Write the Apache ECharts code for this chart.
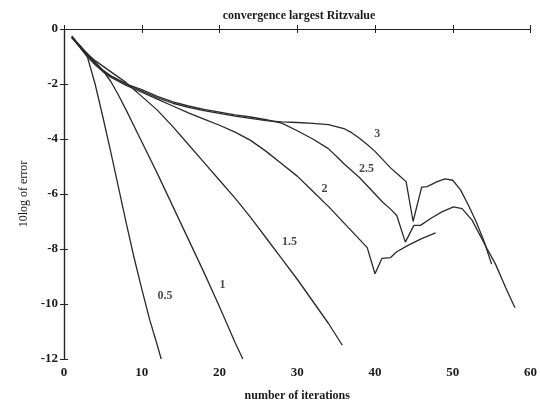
<!DOCTYPE html>
<html><head><meta charset="utf-8">
<script src="https://cdn.jsdelivr.net/npm/echarts@6/dist/echarts.min.js"></script>
<style>html,body{margin:0;padding:0;background:#fff}#c{width:540px;height:407px}</style>
</head><body><div id="c"></div>
<script>
// Data
const x05 = [1, 2, 3, 4, 5, 6, 7, 8, 9, 10, 11, 12, 12.5];
const y05 = [-0.3, -0.65, -1.0, -2.0, -3.2, -4.45, -5.75, -7.05, -8.3, -9.45, -10.55, -11.5, -12];
const x1 = [1, 2, 3, 4, 5, 6, 7, 8, 10, 12, 14, 16, 18, 20, 22, 23];
const y1 = [-0.3, -0.6, -0.9, -1.2, -1.5, -1.9, -2.4, -2.95, -4.1, -5.25, -6.45, -7.65, -8.85, -10.1, -11.4, -12];
const x15 = [1, 2, 3, 4, 5, 6, 7, 8, 9, 10, 12, 14, 16, 18, 20, 22, 24, 26, 28, 30, 32, 34, 35.8];
const y15 = [-0.3, -0.6, -0.9, -1.15, -1.35, -1.55, -1.75, -1.95, -2.2, -2.45, -2.95, -3.55, -4.2, -4.85, -5.5, -6.15, -6.85, -7.6, -8.35, -9.1, -9.9, -10.7, -11.5];
const x2 = [1, 2, 3, 4, 5, 6, 8, 10, 12, 14, 16, 18, 20, 22, 24, 26, 28, 30, 32, 34, 36, 38, 39, 40, 40.9, 42, 42.8, 44.3, 46, 47.8];
const y2 = [-0.3, -0.65, -1.0, -1.3, -1.55, -1.75, -2.05, -2.3, -2.55, -2.8, -3.05, -3.28, -3.5, -3.75, -4.05, -4.45, -4.9, -5.35, -5.9, -6.45, -7.05, -7.65, -7.95, -8.9, -8.34, -8.31, -8.1, -7.86, -7.62, -7.41];
const x25 = [1, 2, 3, 4, 5, 6, 8, 10, 12, 14, 16, 18, 20, 22, 24, 26, 28, 30, 32, 34, 35.3, 36, 38, 40, 41, 42, 42.8, 43.9, 45, 45.85, 47.1, 48.6, 50.1, 51.2, 52.5, 54.4, 55.5, 56.8, 58];
const y25 = [-0.3, -0.6, -0.95, -1.25, -1.5, -1.7, -2.0, -2.2, -2.45, -2.65, -2.8, -2.92, -3.02, -3.12, -3.2, -3.3, -3.42, -3.7, -4.0, -4.35, -4.7, -4.9, -5.4, -6.0, -6.3, -6.55, -6.78, -7.75, -7.14, -7.14, -6.9, -6.65, -6.47, -6.53, -6.96, -7.98, -8.55, -9.4, -10.14];
const x3 = [1, 2, 3, 4, 5, 6, 8, 10, 12, 14, 16, 18, 20, 22, 24, 26, 28, 30, 32, 34, 36, 37, 38, 39, 40, 41, 42, 43, 44, 44.9, 46, 46.7, 48, 49, 50, 51, 52, 53, 54, 55];
const y3 = [-0.25, -0.6, -0.95, -1.25, -1.5, -1.7, -2.0, -2.25, -2.5, -2.7, -2.85, -2.97, -3.07, -3.17, -3.25, -3.33, -3.38, -3.4, -3.43, -3.48, -3.62, -3.77, -3.97, -4.2, -4.45, -4.75, -5.05, -5.3, -5.55, -7.0, -5.75, -5.73, -5.55, -5.45, -5.5, -5.85, -6.4, -7.0, -7.7, -8.55];
const curveLabels = ['0.5', '1', '1.5', '2', '2.5', '3'];
const labelX = [13.0, 20.4, 29.0, 33.5, 38.9, 40.3];
const labelY = [-9.7, -9.3, -7.75, -5.8, -5.1, -3.8];
const xTicks = [0, 10, 20, 30, 40, 50, 60];
const yTicks = [-12, -10, -8, -6, -4, -2, 0];

const zip = (xs, ys) => xs.map((x, i) => [x, ys[i]]);
const curves = [[x05, y05], [x1, y1], [x15, y15], [x2, y2], [x25, y25], [x3, y3]];
const FONT = '"Liberation Serif", "DejaVu Serif", serif';
const lineColor = '#2a2a2a';

const series = curves.map(([xs, ys], i) => ({
  type: 'line', name: curveLabels[i], data: zip(xs, ys), showSymbol: false, smooth: false,
  lineStyle: { color: lineColor, width: 1.3 }, silent: true, animation: false, clip: true
}));
series.push({
  type: 'scatter', data: labelX.map((x, i) => ({ value: [x, labelY[i]], name: curveLabels[i] })),
  symbolSize: 0, animation: false, silent: true,
  label: { show: true, position: 'inside', formatter: p => p.name, color: '#1a1a1a',
    fontFamily: FONT, fontWeight: 'bold', fontSize: 12 }
});

const axisCommon = {
  axisLine: { show: true, lineStyle: { color: '#222', width: 1.2 } },
  axisTick: { show: true, inside: true, length: 4, lineStyle: { color: '#222' } },
  splitLine: { show: false }
};

const chart = echarts.init(document.getElementById('c'), null, { renderer: 'canvas' });
chart.setOption({
  backgroundColor: '#fff',
  animation: false,
  title: { text: 'convergence largest Ritzvalue', left: 294, textAlign: 'center', top: 5,
    textStyle: { fontFamily: FONT, fontWeight: 'bold', fontSize: 12, color: '#1a1a1a' } },
  grid: { left: 64, right: 8, top: 29, bottom: 46 },
  xAxis: [
    Object.assign({ type: 'value', min: xTicks[0], max: xTicks[xTicks.length - 1], interval: 10,
      name: 'number of iterations', nameLocation: 'middle', nameGap: 31,
      nameTextStyle: { fontFamily: FONT, fontWeight: 'bold', fontSize: 12, color: '#1a1a1a' },
      axisLabel: { fontFamily: FONT, fontWeight: 'bold', fontSize: 13, color: '#1a1a1a', margin: 7 } }, axisCommon),
    Object.assign({ type: 'value', position: 'top', min: 0, max: 60, interval: 10,
      axisLabel: { show: false } }, axisCommon)
  ],
  yAxis: [
    Object.assign({ type: 'value', min: yTicks[0], max: yTicks[yTicks.length - 1], interval: 2,
      name: '10log of error', nameLocation: 'middle', nameGap: 33, nameRotate: 90,
      nameTextStyle: { fontFamily: FONT, fontSize: 12, color: '#1a1a1a' },
      axisLabel: { fontFamily: FONT, fontWeight: 'bold', fontSize: 13, color: '#1a1a1a', margin: 6 } }, axisCommon),
    Object.assign({ type: 'value', position: 'right', min: -12, max: 0, interval: 2,
      axisLabel: { show: false } }, axisCommon)
  ],
  series: series
});
</script></body></html>
